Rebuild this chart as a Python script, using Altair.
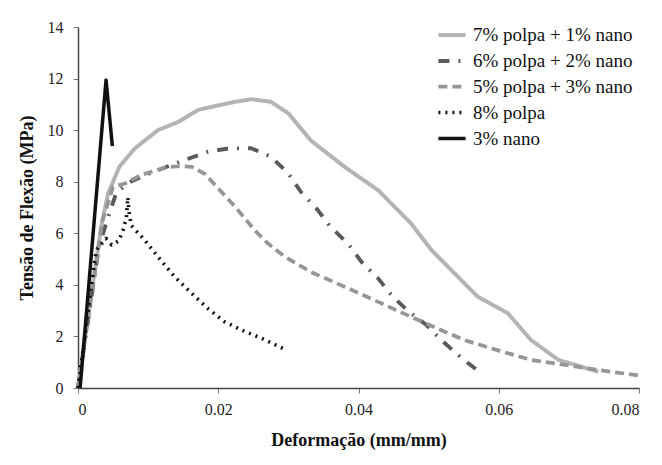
import altair as alt
import pandas as pd

series_names = ["7% polpa + 1% nano", "6% polpa + 2% nano", "5% polpa + 3% nano", "8% polpa", "3% nano"]

x_7p1n = [0, 0.0015, 0.0033, 0.0043, 0.0059, 0.0081, 0.0114, 0.0143, 0.0171, 0.019, 0.0224, 0.0247, 0.0275, 0.0300, 0.0332, 0.0380, 0.0428, 0.0475, 0.0504, 0.0523, 0.0551, 0.0570, 0.0613, 0.0646, 0.0685, 0.0742]
y_7p1n = [0, 2.9, 6.25, 7.55, 8.58, 9.29, 10.0, 10.32, 10.78, 10.9, 11.1, 11.2, 11.1, 10.65, 9.6, 8.58, 7.67, 6.38, 5.35, 4.83, 4.06, 3.54, 2.9, 1.86, 1.09, 0.63]

x_6p2n = [0, 0.003, 0.0045, 0.0055, 0.0075, 0.010, 0.0145, 0.0185, 0.0214, 0.0247, 0.0275, 0.0300, 0.0318, 0.0342, 0.0360, 0.0385, 0.0404, 0.0428, 0.0447, 0.0470, 0.0497, 0.0518, 0.0545, 0.0568]
y_6p2n = [0, 5.5, 6.8, 7.6, 8.0, 8.3, 8.77, 9.16, 9.29, 9.3, 8.97, 8.32, 7.6, 6.9, 6.25, 5.6, 4.9, 4.25, 3.6, 3.0, 2.44, 1.86, 1.21, 0.72]

x_5p3n = [0, 0.0035, 0.005, 0.0067, 0.009, 0.0124, 0.0143, 0.0162, 0.0181, 0.0200, 0.0224, 0.0252, 0.0271, 0.0295, 0.0332, 0.0380, 0.0428, 0.0475, 0.0523, 0.0551, 0.0600, 0.0646, 0.0742, 0.0803]
y_5p3n = [0, 6.5, 7.8, 7.93, 8.26, 8.55, 8.6, 8.58, 8.3, 7.74, 7.03, 6.12, 5.6, 5.09, 4.5, 3.93, 3.34, 2.76, 2.18, 1.86, 1.45, 1.09, 0.70, 0.47]

x_8p = [0, 0.0026, 0.004, 0.0048, 0.0058, 0.0064, 0.0069, 0.0071, 0.0073, 0.0076, 0.0095, 0.0114, 0.0138, 0.0162, 0.0185, 0.0209, 0.0233, 0.0260, 0.0292]
y_8p = [0, 5.35, 5.8, 5.55, 5.7, 6.1, 6.6, 7.4, 6.8, 6.3, 5.74, 5.09, 4.31, 3.67, 3.09, 2.57, 2.25, 1.95, 1.54]

x_3n = [0.0003, 0.004, 0.0049]
y_3n = [0, 11.94, 9.38]

x_ticks = [0, 0.02, 0.04, 0.06, 0.08]
y_ticks = [0, 2, 4, 6, 8, 10, 12, 14]

rows = []
for name, xs, ys in zip(series_names,
                        [x_7p1n, x_6p2n, x_5p3n, x_8p, x_3n],
                        [y_7p1n, y_6p2n, y_5p3n, y_8p, y_3n]):
    for i, (a, b) in enumerate(zip(xs, ys)):
        rows.append({"serie": name, "x": a, "y": b, "i": i})
df = pd.DataFrame(rows)

font = "Liberation Serif"
colors = ["#b4b4b4", "#5a5a5a", "#969696", "#111111", "#111111"]
dashes = [[1, 0], [11, 9, 2, 9], [9, 5], [2, 5], [1, 0]]
widths = [4, 3.5, 3.5, 2.5, 2]

leg = dict(title=None, orient="none", legendX=358, legendY=-8)

chart = alt.Chart(df).mark_line(strokeJoin="round").encode(
    x=alt.X("x:Q", scale=alt.Scale(domain=[0, 0.08], nice=False),
            axis=alt.Axis(values=x_ticks, format="~g", title="Deformação (mm/mm)",
                          grid=False, labelPadding=8, titlePadding=14,
                          labelFont=font, labelFontSize=16, titleFont=font)),
    y=alt.Y("y:Q", scale=alt.Scale(domain=[0, 14], nice=False),
            axis=alt.Axis(values=y_ticks, title="Tensão de Flexão (MPa)", grid=False,
                          labelPadding=10, titlePadding=11,
                          labelFont=font, labelFontSize=16, titleFont=font)),
    color=alt.Color("serie:N", scale=alt.Scale(domain=series_names, range=colors),
                    sort=series_names,
                    legend=alt.Legend(symbolType="stroke", symbolSize=740, labelFont=font,
                                      labelFontSize=19, labelColor="#111", rowPadding=0,
                                      labelOffset=5, labelLimit=300, **leg)),
    strokeDash=alt.StrokeDash("serie:N", scale=alt.Scale(domain=series_names, range=dashes),
                              sort=series_names, legend=alt.Legend(**leg)),
    strokeWidth=alt.StrokeWidth("serie:N", scale=alt.Scale(domain=series_names, range=widths),
                                sort=series_names, legend=alt.Legend(**leg)),
    order="i:Q",
    detail="serie:N",
).properties(
    width=561, height=361,
    padding={"left": 10, "top": 11, "right": 5, "bottom": 5},
    background="white",
).configure_axis(
    labelColor="#222", titleFontSize=18,
    titleFontWeight="bold", titleColor="#111", domainColor="#444", tickColor="#777",
    domainWidth=1.5, tickSize=5,
).configure_view(stroke=None)

chart.save("out.html", embed_options={"renderer": "svg", "actions": False})
